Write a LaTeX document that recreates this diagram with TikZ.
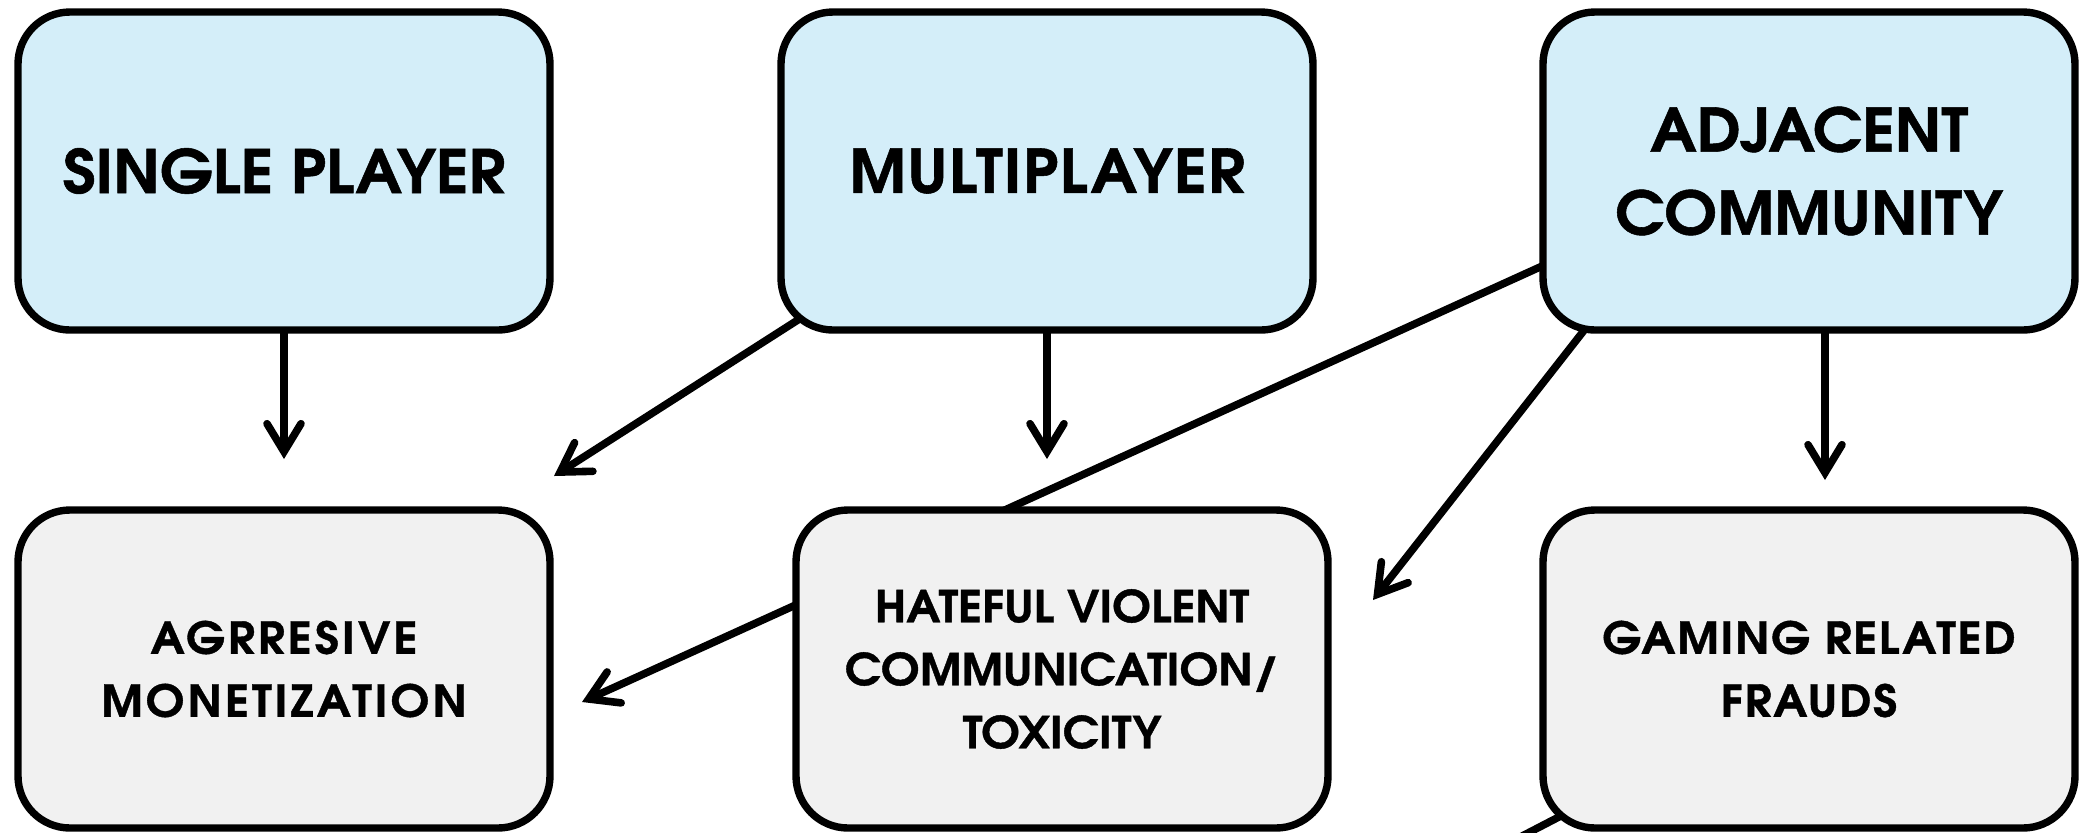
\documentclass[tikz,border=0pt]{standalone}
\usepackage{fontspec}
\setmainfont{texgyreadventor}[Extension=.otf, UprightFont=*-regular, BoldFont=*-bold, BoldFeatures={FakeBold=0.9, FakeStretch=1.05}]
\usetikzlibrary{arrows.meta,calc}
\definecolor{topblue}{RGB}{212,238,249}
\definecolor{botgray}{RGB}{241,241,241}
\pgfdeclarelayer{bg}
\pgfsetlayers{bg,main}
\begin{document}
\begin{tikzpicture}[x=0.5pt,y=-0.5pt,
  box/.style={draw=black, line width=3.7pt, rounded corners=26pt, minimum width=266pt, minimum height=159pt, align=center, inner sep=0pt},
  topbox/.style={box, fill=topblue, font=\bfseries\fontsize{30}{41.5}\selectfont},
  botbox/.style={box, fill=botgray, font=\bfseries\fontsize{22}{31.5}\selectfont},
  conn/.style={line width=3.8pt, -{Straight Barb[length=14pt,width=17pt,line cap=round,line join=miter]}},
  plainline/.style={line width=3.8pt},
]
\useasboundingbox (0,0) rectangle (2085,832);
\node[topbox] (single) at (284,171) {SINGLE PLAYER};
\node[topbox] (multi) at (1047,171) {\addfontfeatures{LetterSpace=2.5}MULTIPLAYER};
\node[topbox] (adj) at (1809,171) {ADJACENT\\COMMUNITY};
\node[botbox] (agr) at (284,669) {\addfontfeatures{LetterSpace=7}AGRRESIVE\\\addfontfeatures{LetterSpace=7}MONETIZATION};
\node[botbox] (hate) at (1062,669) {HATEFUL VIOLENT\\COMMUNICATION/\\TOXICITY};
\node[botbox] (fraud) at (1809,669) {\addfontfeatures{LetterSpace=4}GAMING RELATED\\\addfontfeatures{LetterSpace=4}FRAUDS};
\coordinate (t1) at (284,459);
\coordinate (t2) at (554,476);
\coordinate (t3) at (1047,459);
\coordinate (t4) at (582,702);
\coordinate (t5) at (1373,600);
\coordinate (t6) at (1825,480);
\coordinate (t7) at (1449,874);
\begin{pgfonlayer}{bg}
\draw[conn] (single.center) -- (t1);
\draw[conn] ($(multi.south west)+(46,-30)$) -- (t2);
\draw[conn] (multi.center) -- (t3);
\draw[conn] ($(adj.west)+(36,80)$) -- (t4);
\draw[conn] ($(adj.south west)+(75,-42)$) -- (t5);
\draw[conn] ($(adj.center)+(16,0)$) -- (t6);
\draw[plainline] ($(fraud.south west)+(49,-30)$) -- (t7);
\end{pgfonlayer}
\end{tikzpicture}
\end{document}
